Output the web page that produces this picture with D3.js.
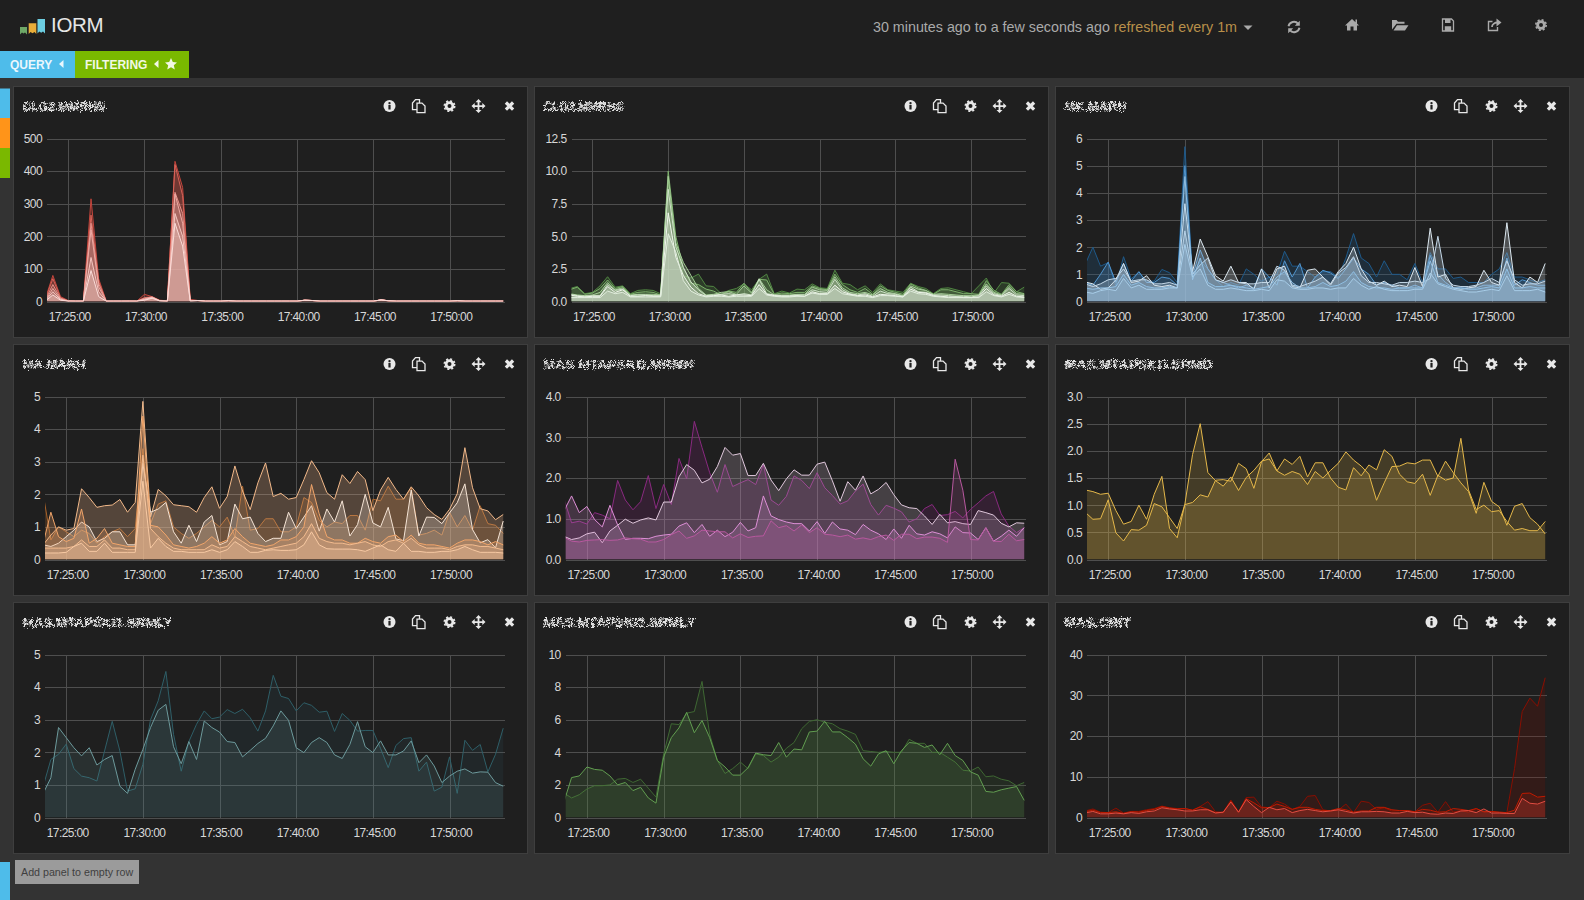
<!DOCTYPE html>
<html>
<head>
<meta charset="utf-8">
<title>IORM</title>
<script src="https://cdnjs.cloudflare.com/ajax/libs/d3/7.8.5/d3.min.js"></script>
<style>
    body { margin: 0; background: #333333; overflow: hidden; }
    svg { display: block; font-family: "Liberation Sans", Arial, sans-serif; }
    .axis text { fill: #d8d8d8; font-size: 12px; letter-spacing: -0.6px; }
    .axis line { stroke: #4e4e4e; shape-rendering: crispEdges; }
    .axis .domain { display: none; }
</style>
</head>
<body>
<svg id="svg" width="1584" height="900"></svg>
<script>
// values, one point every 30 seconds from 17:23:30 to 17:53:30
const xTickLabels = ["17:25:00", "17:30:00", "17:35:00", "17:40:00", "17:45:00", "17:50:00"];
const panelTitles = ["CI.G2.MMRHS", "CLG2.MMRHS", "MK.MARH", "MA.MARH", "MAS.MTAPSKD.MRMH", "MAS.MTAPSKD.SRMD", "MAS.MTAPSKI1.SRMLY", "MAS.MTAPSKI2.SRMLY", "MAS.CRIT"];

// panel 1
const redTail = [3,1,1,1,2,1,1,1,1,1,1,1,1,1,4,3,1,1,1,1,1,1,1,1,5,2,1,1,1,1,1,1,1,1,2,1,1,1,1,1,1];
const redA = [8,80,15,3,1,2,315,70,1,1,1,2,1,22,15,4,2,430,350,6, ...redTail];
const redB = [6,70,12,2,1,1,265,62,1,1,1,1,1,12,14,3,1,420,325,4, ...redTail];
const redC = [5,52,10,2,1,1,240,55,1,1,1,1,1,10,14,3,1,335,270,3, ...redTail];
const redD = [3,40,8,1,1,1,220,45,1,1,1,1,1,8,13,2,1,330,240,2, ...redTail];
const redE = [2,30,6,1,1,1,135,30,1,1,1,1,1,6,12,2,1,270,200,2, ...redTail];
const redF = [1,20,4,1,1,1,95,15,1,1,1,1,1,4,10,2,1,240,170,1, ...redTail];

// panel 2
const greenA = [1.0,1.15,.6,.7,1.2,1.9,1.1,1.2,.6,.85, .9,.85,.6,9.3,4.5,2.0,1.8,2.1,1.2,1.15, .6,.85,1.0,1.35,.9,1.7,2.1,.6,.8,.65, .95,.9,1.35,1.05,1.0,2.4,1.4,1.3,.9,1.2, .7,1.35,.9,.8,.7,1.4,1.15,1.0,.6,1.0, 1.05,.9,.75,.6,1.2,1.8,.65,1.45,1.4,.75,1.1];
const greenB = [.9,1.1,.55,.65,1.0,1.65,1.0,1.15,.55,.7, .75,.7,.5,10,5.0,2.6,1.4,1.3,.95,.8, .5,.8,.7,1.4,.7,1.7,1.65,.55,.65,.6, .7,.7,1.2,1.0,.9,2.1,1.3,.9,.7,1.0, .55,1.2,.85,.7,.55,1.35,1.05,.85,.55,.9, .9,.75,.6,.6,.55,1.6,.85,.55,1.3,.75,.6];
const greenC = [.6,.5,.45,.5,.7,1.45,.9,1.05,.5,.55, .55,.55,.5,9.6,4.5,3.0,2.0,1.0,.5,.55, .7,.75,.55,1.2,.65,1.75,.9,.5,.5,.5, .55,.55,1.1,.9,.85,1.9,1.05,.7,.6,.7, .5,1.0,.7,.6,.45,1.2,.95,.85,.55,.6, .55,.5,.45,.45,.5,1.35,.7,.5,1.15,.6,.55];
const greenD = [.55,.45,.4,.45,.45,1.3,.85,.95,.45,.5, .5,.45,.45,8.6,4.2,2.6,1.5,.9,.45,.5, .55,.6,.5,.6,.5,1.7,.6,.5,.45,.45, .5,.5,.9,.75,.7,1.7,.9,.6,.5,.6, .4,.8,.6,.55,.4,1.1,.75,.7,.5,.5, .45,.4,.4,.35,.45,1.2,.6,.45,1.0,.5,.45];
const greenE = [.5,.4,.35,.4,.4,1.15,.7,.9,.4,.4, .45,.4,.4,6.8,3.4,2.0,1.1,.6,.4,.45, .5,.4,.5,.5,.45,1.3,.55,.45,.4,.4, .45,.4,.75,.6,.6,1.25,.75,.55,.45,.5, .35,.55,.5,.45,.35,.95,.7,.65,.45,.4, .35,.35,.3,.3,.35,1.0,.5,.4,.7,.4,.35];
const greenF = [.3,.3,.3,.3,.3,.8,.6,.7,.35,.35, .35,.35,.35,5.2,3.8,1.6,.8,.5,.35,.4, .4,.35,.4,.4,.4,1.0,.5,.4,.35,.35, .4,.4,.65,.55,.55,1.0,.6,.5,.4,.4, .3,.45,.45,.4,.35,.8,.6,.55,.4,.35, .3,.3,.3,.3,.3,.75,.45,.35,.55,.35,.3];

// panel 3
const blueA = [1.37,2.0,1.3,1.43,.57,1.65,.84,1.08,.75,.75,1.18,1.06,.7,5.7,.9,1.5,1.2,.8,.55,.7,.6,1.2,1.0,.75,.9,1.0,1.85,1.3,1.3,1.1,.9,1.1,1.1,.9,1.6,2.5,1.6,1.4,.9,1.5,1.0,1.0,.8,1.4,.7,1.8,1.2,1.2,.85,.9,.7,.7,.7,1.0,1.2,1.8,.9,.9,.8,.7,.8];
const blueB = [.7,.6,1.0,1.45,.7,1.4,.75,1.1,.7,.7,.9,.85,.6,5.0,.95,1.9,1.2,.8,.7,.6,.5,.6,.5,1.2,.9,.6,1.5,.9,1.4,.5,.9,1.15,1.05,.85,1.2,1.6,1.2,1.0,.6,.7,.6,.5,.5,.6,.5,1.7,1.0,.7,.5,.5,.5,.5,.6,.6,.6,1.6,.6,.8,.7,.6,.6];
const blueC = [.72,.65,.45,.5,.8,1.4,.7,.75,.95,.6,.55,.6,.5,3.6,1.1,2.3,1.65,.95,.75,1.3,.7,.7,.45,1.2,.5,1.2,1.3,.55,.5,1.15,1.2,.9,.65,1.1,1.4,2.0,1.2,.75,.6,.75,.55,.6,.55,1.25,.55,2.7,.9,1.0,.5,.45,.5,.55,1.15,.7,.6,2.9,.7,.5,.9,.7,1.4];
const blueD = [.65,.55,.65,.8,.85,1.2,.75,.8,.8,.65,.65,.7,.6,2.6,1.0,1.35,1.6,.8,.7,.8,.7,.65,.65,.7,.7,1.3,1.15,.6,.55,.65,.75,.9,.6,1.05,1.25,1.65,.95,.7,.7,.65,.6,.7,.7,.75,.7,.85,2.4,.85,.6,.55,.55,.6,.7,.85,.7,1.5,.8,.6,.65,.65,.75];
const blueE = [.5,.45,.5,.5,.55,1.0,.6,.7,.55,.5,.5,.55,.5,4.6,.8,1.6,.7,.55,.55,.6,.55,.5,.45,.5,.55,.9,1.1,.7,.5,.5,.55,.7,.55,.6,.75,1.1,.7,.55,.5,.5,.45,.5,.5,.5,.5,1.5,.7,.6,.5,.5,.45,.45,.5,.55,.5,1.2,.5,.5,.55,.5,.5];
const blueF = [.35,.3,.4,.45,.4,.85,.5,.6,.45,.45,.45,.5,.5,2.1,.9,1.2,.6,.45,.45,.5,.45,.4,.4,.45,.4,.8,.75,.5,.45,.45,.5,.5,.45,.5,.5,.85,.6,.45,.55,.45,.4,.4,.4,.45,.45,1.05,.65,.55,.45,.4,.35,.35,.4,.45,.4,.95,.4,.4,.4,.45,.35];

// panel 4
const orangeTop = [.45,.75,1.0,.9,.95,2.17,1.9,1.6,1.65,1.67,1.84,1.45,1.75,4.85,1.3,2.15,1.95,1.68,1.65,1.62,1.45,1.9,2.23,1.57,1.93,2.87,2.1,1.53,2.35,2.96,1.93,2.03,1.85,1.9,2.45,3.03,2.66,2.05,1.85,2.6,2.33,2.7,2.45,1.5,2.13,2.52,2.15,1.85,2.23,1.95,1.59,1.38,1.23,1.54,2.02,3.43,2.2,1.56,1.49,1.22,1.38];
const orangeDark = [2.0,.6,1.0,.85,.7,.9,.8,.5,.7,.85,.95,.7,.95,3.4,1.1,1.7,1.8,1.0,.8,.65,.8,1.0,1.2,1.0,1.3,.7,2.25,.9,.95,1.25,1.25,.85,.85,1.0,1.9,1.75,1.2,1.0,1.15,1.1,1.35,1.35,.9,1.85,1.8,2.25,1.85,1.85,2.2,.75,.8,.9,.75,1.45,1.0,1.35,.9,1.65,1.1,1.05,.8];
const orangeWhite = [.45,.4,.5,.7,.9,1.15,1.0,.55,.65,.85,.85,.45,.45,2.95,1.45,1.55,1.75,.85,.5,1.05,.55,1.15,1.35,.45,.55,1.7,1.25,1.3,.8,.55,.65,.65,1.45,.95,1.3,1.65,.87,1.55,1.15,1.8,.72,1.07,2.0,1.12,1.0,1.6,.63,.58,2.13,.72,1.3,1.29,1.1,1.43,1.74,2.32,.92,.51,.61,.36,1.18];
const orangeMid = [.5,1.45,.7,.55,.65,1.55,.5,.65,.95,.5,.45,.4,.4,4.4,1.05,1.0,.75,.45,.4,.35,.4,.5,.7,.5,.6,.95,.7,.5,.45,.4,.45,.6,.6,.7,1.0,2.3,1.4,.7,.6,.6,.5,.5,.65,.55,.5,.7,.75,.55,.75,.5,.45,.45,.4,.35,.5,.6,.6,.55,.45,.55,.45];
const orangeLow = [.35,.35,.35,.35,.4,.6,.4,.4,.6,.35,.35,.3,.3,3.2,.95,.7,.5,.35,.3,.3,.3,.3,.45,.35,.4,.7,.55,.4,.35,.3,.35,.4,.45,.5,.7,1.1,.65,.55,.5,.5,.45,.5,.55,.45,.4,.55,.6,.5,.65,.45,.35,.35,.35,.3,.4,.45,.45,.4,.4,.35,.3];
const orangeBase = [.2,.2,.2,.22,.4,.5,.25,.25,.5,.22,.22,.22,.22,2.4,.35,.65,.4,.25,.25,.22,.22,.22,.3,.22,.3,.55,.4,.22,.22,.28,.3,.28,.28,.3,.45,.85,.45,.33,.32,.32,.32,.3,.25,.35,.45,.3,.25,.5,.25,.25,.22,.22,.25,.25,.3,.4,.3,.22,.22,.22,.2];

// panel 5
const purpleDark = [1.5,.9,.94,.87,1.15,1.09,1.0,1.94,1.46,1.22,1.42,2.06,1.25,1.84,1.35,2.48,1.98,3.39,2.75,2.13,1.65,2.33,1.79,1.88,1.96,1.84,2.33,1.46,1.33,1.55,2.05,1.94,1.74,2.13,1.76,1.57,1.36,1.44,1.68,1.85,1.35,1.09,1.33,1.26,1.17,.92,1.0,1.25,1.35,1.08,1.1,1.18,1.02,1.23,1.39,1.56,1.67,1.12,.82,.66,.78];
const purpleLight = [.57,.49,.53,.63,.67,.41,.7,.84,.99,.89,.97,1.02,.97,1.41,1.41,2.03,2.33,2.19,1.88,1.97,2.28,2.75,2.56,2.6,2.06,2.06,2.36,1.95,1.69,1.98,2.2,2.07,2.07,2.34,2.39,1.93,1.43,1.91,1.7,2.05,1.61,1.72,1.89,1.59,1.34,1.27,1.25,1.07,.86,1.11,.9,.93,.88,.86,1.2,1.15,1.09,.89,.8,.9,.89];
const purpleMid = [1.19,1.56,1.15,1.3,.98,.8,1.33,.85,.49,.52,.52,.51,.57,.6,.62,.82,.9,.66,.86,.57,.72,.56,.67,.91,.7,.78,1.56,1.07,.98,.92,.88,.88,.7,.93,.64,.92,.75,.72,.61,.86,.72,.63,.49,.75,.52,.84,.63,.6,.68,.63,.53,.8,.66,.65,.49,.78,.45,.57,.72,.57,.78];
const purpleLow = [.55,.45,.43,.47,.48,.49,.47,.48,.53,.51,.5,.43,.43,.49,.61,.7,.52,.58,.72,.7,.68,.68,.53,.63,.54,.57,.58,.95,.78,.83,.7,.85,.66,.78,.62,.6,.56,.6,.5,.53,.49,.56,.6,.47,.62,.62,.51,.55,.55,.52,.42,2.46,1.7,.49,.48,.78,.45,.44,.62,.46,.49];

// panel 6
const amberA = [1.28,1.25,1.2,1.22,.9,.65,.7,1.0,.74,1.2,1.53,.57,.4,1.02,1.93,2.5,1.6,1.45,1.35,1.52,1.27,1.51,1.64,1.81,1.85,1.63,1.55,1.62,1.57,1.38,1.62,1.5,1.64,1.77,1.98,1.83,1.72,1.57,1.09,1.41,1.71,1.72,1.78,1.76,1.83,1.83,1.53,1.81,1.6,1.41,1.25,.85,1.42,1.07,.97,.63,.98,1.03,.77,.65,.47];
const amberB = [.87,.74,.75,1.1,.49,.34,.55,.54,.63,1.03,.97,.77,.57,1.01,1.05,1.19,1.15,1.46,1.47,1.44,1.77,1.67,1.31,1.8,1.96,1.63,1.85,1.75,1.9,1.52,1.78,1.78,1.5,1.33,1.28,1.69,1.54,1.74,1.65,2.02,1.9,1.57,1.43,1.4,1.57,1.18,1.55,1.46,1.5,2.23,1.28,.92,1.0,.88,.9,.7,.54,.57,.53,.53,.7];

// panel 7
const tealDark = [.96,1.78,1.94,2.25,1.5,1.27,1.22,1.12,2.04,2.95,2.04,.81,.88,1.63,3.0,3.58,4.48,2.55,1.42,2.33,2.86,3.27,3.03,3.08,3.31,3.19,3.32,3.06,2.65,3.27,4.36,3.72,3.65,3.27,3.52,3.44,3.23,3.26,2.64,3.19,2.98,2.65,2.67,2.67,2.12,1.53,2.21,2.42,2.45,1.42,1.7,.81,.93,1.86,.74,2.37,2.06,2.24,1.4,1.94,2.74];
const tealLight = [.74,1.22,2.76,2.45,2.14,1.89,2.14,1.61,1.78,1.9,.96,.74,1.48,2.09,2.76,3.29,3.47,2.17,1.65,2.33,1.78,2.96,2.76,2.62,2.33,2.3,1.86,2.06,2.27,2.43,2.81,3.27,2.98,2.14,1.99,2.3,2.45,2.3,1.92,1.81,2.24,2.94,2.17,1.99,2.35,1.92,1.92,2.04,2.35,1.68,1.92,1.58,1.07,1.27,1.42,1.49,1.36,1.4,1.39,1.07,.96];

// panel 8
const oliveLight = [.95,2.45,2.55,3.1,2.95,2.9,2.55,2.0,2.15,1.65,1.85,1.2,.88,3.7,4.9,5.5,6.45,5.2,5.95,4.9,3.5,3.1,2.6,2.6,3.05,3.95,3.85,3.8,4.6,3.7,4.2,4.15,5.25,5.3,5.9,5.25,5.25,4.9,4.5,3.6,3.15,3.9,4.1,3.3,4.1,4.6,4.55,4.3,4.45,3.85,4.55,3.8,3.5,2.8,2.6,1.6,1.55,1.7,1.8,1.9,1.05];
const oliveDark = [1.5,1.2,1.4,1.75,1.95,1.95,2.0,2.35,2.4,2.15,2.35,1.8,1.25,3.9,5.75,5.7,6.4,6.5,8.35,5.1,3.5,2.7,3.0,3.4,3.0,3.9,3.8,3.4,3.7,4.25,4.6,5.45,5.9,6.0,5.85,5.75,5.45,5.3,5.1,4.1,4.05,4.0,4.05,4.0,4.0,4.8,4.55,4.55,4.0,4.0,3.7,3.4,2.9,2.85,3.1,2.5,2.55,2.35,2.25,1.95,2.15];

// panel 9
const crimsonA = [1.6,2.1,1.3,1.2,2.3,1.1,1.5,1.5,1.9,2.2,2.8,2.4,2.2,2.2,1.8,2.7,3.9,1.4,1.3,4.3,1.4,4.9,5.0,2.6,2.4,4.0,3.3,2.0,2.7,5.2,5.4,1.9,1.6,1.8,3.3,1.2,4.0,3.7,2.0,2.4,1.6,1.7,1.7,1.4,3.0,3.5,1.3,3.9,1.3,1.7,1.3,2.2,1.4,1.4,1.3,1.2,12,26,29.3,27.3,34.3];
const crimsonB = [1.4,1.8,1.2,1.2,1.4,1.0,1.4,1.3,1.7,2.0,2.7,2.3,2.1,2.2,1.8,2.6,2.0,1.2,1.2,4.0,1.3,4.6,3.6,2.4,2.4,3.3,2.7,2.0,2.5,2.5,2.0,1.7,1.7,2.2,1.9,1.3,1.6,1.6,2.5,2.5,1.9,1.7,1.7,1.4,2.0,1.8,1.3,1.4,2.2,2.0,1.7,2.2,1.4,1.5,1.3,1.2,1.8,5.9,6.0,5.0,5.2];
const crimsonC = [1.1,1.5,.9,.9,1.1,.9,1.2,1.0,1.4,1.6,2.4,2.1,1.9,1.6,1.6,1.9,1.9,1.1,1.3,3.8,1.3,4.4,2.7,1.2,2.5,1.9,2.2,1.2,1.7,2.0,1.7,1.4,1.6,1.9,1.5,1.1,1.4,1.4,1.5,1.4,1.1,1.1,1.5,1.2,1.3,.9,.8,1.1,1.0,1.6,1.7,1.2,2.1,1.1,1.1,1.0,1.0,4.7,3.5,3.3,4.0];

// y ticks of each panel
const yTicksRed = [0, 100, 200, 300, 400, 500];
const yTicksGreen = [0, 2.5, 5, 7.5, 10, 12.5];
const yTicksBlue = [0, 1, 2, 3, 4, 5, 6];
const yTicksOrange = [0, 1, 2, 3, 4, 5];
const yTicksPurple = [0, 1, 2, 3, 4];
const yTicksAmber = [0, .5, 1, 1.5, 2, 2.5, 3];
const yTicksTeal = [0, 1, 2, 3, 4, 5];
const yTicksOlive = [0, 2, 4, 6, 8, 10];
const yTicksCrimson = [0, 10, 20, 30, 40];

const panels = [
    { series: [redA, redB, redC, redD, redE, redF], colors: ["#c4453c", "#d8645a", "#e8928a", "#eeaaa3", "#f5c6c0", "#fbdcd8"], ticks: yTicksRed, format: d3.format("d"), alpha: .27, left: 47, titleWidth: 83 },
    { series: [greenA, greenB, greenC, greenD, greenE, greenF], colors: ["#508642", "#7eb26d", "#a5cc98", "#cfe3c8", "#f0f6ec", "#e2eede"], ticks: yTicksGreen, format: d3.format(".1f"), alpha: .28, left: 571.5, titleWidth: 80 },
    { series: [blueA, blueB, blueC, blueD, blueE, blueF], colors: ["#1f5a8a", "#5195ce", "#dce8f0", "#c4d8e8", "#90bfe3", "#a8cde8"], ticks: yTicksBlue, format: d3.format("d"), alpha: .25, left: 1087, titleWidth: 62 },
    { series: [orangeDark, orangeTop, orangeWhite, orangeMid, orangeLow, orangeBase], colors: ["#a8632a", "#f2b98a", "#f5e4d5", "#f1a56a", "#f4bc8f", "#f7c9a3"], ticks: yTicksOrange, format: d3.format("d"), alpha: .25, left: 45, titleWidth: 63 },
    { series: [purpleDark, purpleLight, purpleMid, purpleLow], colors: ["#8a2a80", "#e0c8dc", "#dd8fd6", "#b8589f"], ticks: yTicksPurple, format: d3.format(".1f"), alpha: .2, left: 565.7, titleWidth: 150 },
    { series: [amberA, amberB], colors: ["#e5b84a", "#e5b84a"], ticks: yTicksAmber, format: d3.format(".1f"), alpha: .19, left: 1087, titleWidth: 148 },
    { series: [tealDark, tealLight], colors: ["#2f5f68", "#6d9a9c"], ticks: yTicksTeal, format: d3.format("d"), alpha: .14, left: 45, titleWidth: 150 },
    { series: [oliveDark, oliveLight], colors: ["#3f6833", "#629e51"], ticks: yTicksOlive, format: d3.format("d"), alpha: .17, left: 565.7, titleWidth: 152 },
    { series: [crimsonA, crimsonB, crimsonC], colors: ["#890f02", "#bf1b00", "#e24d42"], ticks: yTicksCrimson, format: d3.format("d"), alpha: .2, left: 1087, titleWidth: 66 }
];

// layout of the grafana grid
const panelLefts = [13.5, 534.5, 1055.5];
const plotRights = [505, 1026, 1547];
const panelTops = [86.5, 344.5, 602.5];
const panelWidth = 514;
const panelHeight = 251;
const plotTop = 52;
const plotHeight = 163;
const iconOffsets = [376, 405, 436, 465, 496];

const parseClock = d3.timeParse("%Y-%m-%d %H:%M:%S");
const firstPoint = parseClock("2015-03-10 17:23:30");
const xDomain = [parseClock("2015-03-10 17:23:37"), parseClock("2015-03-10 17:53:37")];
const xTicks = xTickLabels.map(d => parseClock("2015-03-10 " + d));

let svg = d3.select("#svg");
let defs = svg.append("defs");

// scrambled panel titles
let noise = defs.append("filter").attr("id", "scramble")
    .attr("x", "-5%").attr("y", "-40%").attr("width", "110%").attr("height", "180%");
noise.append("feTurbulence").attr("type", "fractalNoise").attr("baseFrequency", 1.3).attr("numOctaves", 2).attr("seed", 4).attr("result", "n");
noise.append("feDisplacementMap").attr("in", "SourceGraphic").attr("in2", "n").attr("scale", 7).attr("xChannelSelector", "R").attr("yChannelSelector", "G").attr("result", "d");
noise.append("feGaussianBlur").attr("in", "d").attr("stdDeviation", .3);

function drawIcon(g, name, x, y, color, bg) {
    let icon = g.append("g").attr("transform", `translate(${x},${y})`);
    let stroke = (d, w) => icon.append("path").attr("d", d).attr("fill", "none").attr("stroke", color).attr("stroke-width", w);
    let solid = d => icon.append("path").attr("d", d).attr("fill", color);
    if (name == "info") {
        icon.append("circle").attr("r", 6).attr("fill", color);
        icon.append("rect").attr("x", -1.1).attr("y", -1.2).attr("width", 2.2).attr("height", 4.6).attr("fill", bg);
        icon.append("circle").attr("cy", -3).attr("r", 1.2).attr("fill", bg);
    } else if (name == "copy") {
        stroke("M-1.5 3.5H-6V-3L-3 -6.5H1V-3", 1.3);
        icon.append("path").attr("d", "M-1.5 -3H3.5L6.5 0V6.5H-1.5Z").attr("fill", bg).attr("stroke", color).attr("stroke-width", 1.3);
    } else if (name == "gear") {
        icon.append("circle").attr("r", 3.4).attr("fill", "none").attr("stroke", color).attr("stroke-width", 2.8);
        icon.append("circle").attr("r", 5.2).attr("fill", "none").attr("stroke", color).attr("stroke-width", 1.6).attr("stroke-dasharray", "2.05 2.03");
    } else if (name == "move") {
        stroke("M-5 0H5M0 -5V5", 1.8);
        solid("M0 -7L3 -3.8H-3ZM0 7L3 3.8H-3ZM-7 0L-3.8 -3V3ZM7 0L3.8 -3V3Z");
    } else if (name == "close") {
        stroke("M-3.6 -3.6L3.6 3.6M3.6 -3.6L-3.6 3.6", 3.2);
    } else if (name == "home") {
        solid("M0 -6L3.5 -2.8V-5.5H5V-1.4L7 .5H5V5.5H1.5V1.5H-1.5V5.5H-5V.5H-7Z");
    } else if (name == "folder") {
        solid("M-8 4.5V-5H-3.5L-2 -3.2H4.5V-1.2H-3.5ZM-6.5 5.5L-3 .2H8.5L5 5.5Z");
    } else if (name == "save") {
        stroke("M-5.5 -6H3.5L5.5 -4V6H-5.5Z", 1.3);
        solid("M-3 -6H2.5V-2H-3ZM-3.2 1.2H3.2V6H-3.2Z");
    } else if (name == "share") {
        stroke("M3.5 2V5.5H-5.5V-3.5H-1.5", 1.4);
        stroke("M-2 2C-2 -1 1 -2.5 3.5 -2.5", 1.8);
        solid("M2.5 -6.5L7.5 -2.5L2.5 1.5Z");
    } else if (name == "refresh") {
        stroke("M-5.5 -.8A5.6 5.6 0 0 1 4.2 -3.2", 1.9);
        stroke("M5.5 .8A5.6 5.6 0 0 1 -4.2 3.2", 1.9);
        solid("M5.8 -6.2V-1.2H.8ZM-5.8 6.2V1.2H-.8Z");
    }
}

function drawNav() {
    svg.append("rect").attr("width", 1584).attr("height", 78).attr("fill", "#1f1f1f");

    // logo
    let logo = svg.append("g");
    logo.append("path").attr("d", "M20 27H27V34.5L25 32.5L23.5 33.5L22 32.5L20 34.5Z").attr("fill", "#6ea867");
    logo.append("path").attr("d", "M28.7 23.3H36.3V34L34.5 32L32.5 33.2L30.5 32L28.7 34Z").attr("fill", "#e8ad3a");
    logo.append("path").attr("d", "M37.5 19H45V33.5L43 31.5L41.2 32.8L39.3 31.5L37.5 33.5Z").attr("fill", "#6ccde0");
    svg.append("text").attr("x", 51).attr("y", 32).attr("fill", "#e6e6e6").style("font-size", "20.5px").style("letter-spacing", "-0.3px").text("IORM");

    // time picker
    let time = svg.append("text").attr("x", 873).attr("y", 32).style("font-size", "14.3px");
    time.append("tspan").attr("fill", "#aaaaaa").text("30 minutes ago to a few seconds ago ");
    time.append("tspan").attr("fill", "#b8904a").text("refreshed every 1m");
    svg.append("path").attr("d", "M1243.5 25.5H1252.5L1248 30Z").attr("fill", "#aaaaaa");

    drawIcon(svg, "refresh", 1294, 27, "#aaaaaa");
    drawIcon(svg, "home", 1352, 25, "#aaaaaa");
    drawIcon(svg, "folder", 1400, 25, "#aaaaaa");
    drawIcon(svg, "save", 1448, 25, "#aaaaaa");
    drawIcon(svg, "share", 1494, 25, "#aaaaaa");
    drawIcon(svg, "gear", 1541, 25, "#aaaaaa", "#1f1f1f");

    // query and filtering tabs
    svg.append("rect").attr("y", 51).attr("width", 75).attr("height", 27).attr("fill", "#4ebcea");
    svg.append("rect").attr("x", 75).attr("y", 51).attr("width", 114).attr("height", 27).attr("fill", "#7ab800");
    svg.append("text").attr("x", 10).attr("y", 68.5).attr("fill", "#eaf7fd").style("font-size", "12px").style("font-weight", "bold").text("QUERY");
    svg.append("text").attr("x", 85).attr("y", 68.5).attr("fill", "#f2f8e4").style("font-size", "12px").style("font-weight", "bold").text("FILTERING");
    svg.append("path").attr("d", "M63.5 60V68L59 64Z").attr("fill", "#eaf7fd");
    svg.append("path").attr("d", "M158.5 60V68L154 64Z").attr("fill", "#f2f8e4");
    svg.append("path").attr("d", "M171 58L172.8 62L177 62.4L173.8 65.2L174.8 69.5L171 67.2L167.2 69.5L168.2 65.2L165 62.4L169.2 62Z").attr("fill", "#f2f8e4");

    // row handles
    svg.append("rect").attr("y", 88.5).attr("width", 10).attr("height", 29.5).attr("fill", "#4ebcea");
    svg.append("rect").attr("y", 118).attr("width", 10).attr("height", 30).attr("fill", "#ff9419");
    svg.append("rect").attr("y", 148).attr("width", 10).attr("height", 30).attr("fill", "#7ab800");
    svg.append("rect").attr("y", 862).attr("width", 10).attr("height", 38).attr("fill", "#4ebcea");

    svg.append("rect").attr("x", 15).attr("y", 860).attr("width", 124).attr("height", 24).attr("fill", "#9b9b9b");
    svg.append("text").attr("x", 21).attr("y", 876).attr("fill", "#3f3f3f").style("font-size", "10.7px").text("Add panel to empty row");
}

function drawPanel(panel, i) {
    let col = i % 3;
    let row = Math.floor(i / 3);
    let px = panelLefts[col];
    let py = panelTops[row];
    let top = py + plotTop;
    let bottom = top + plotHeight;
    let g = svg.append("g");

    g.append("rect").attr("x", px).attr("y", py).attr("width", panelWidth).attr("height", panelHeight)
        .attr("fill", "#1f1f1f").attr("stroke", "#3e3e3e").attr("shape-rendering", "crispEdges");

    g.append("text").attr("x", px + 9).attr("y", py + 24.5)
        .attr("fill", "#e2e2e2").attr("textLength", panel.titleWidth).attr("lengthAdjust", "spacingAndGlyphs")
        .attr("filter", "url(#scramble)").style("font-size", "13px").style("font-weight", "bold")
        .text(panelTitles[i]);

    ["info", "copy", "gear", "move", "close"].forEach((name, k) => {
        drawIcon(g, name, px + iconOffsets[k], py + 19.6, "#e8e8e8", "#1f1f1f");
    });

    let xScale = d3.scaleTime().domain(xDomain).range([panel.left, plotRights[col]]);
    let yScale = d3.scaleLinear().domain([0, d3.max(panel.ticks)]).range([bottom, top]);

    let xAxis = g.append("g").attr("class", "axis").attr("transform", `translate(0,${bottom})`)
        .call(d3.axisBottom(xScale).tickValues(xTicks).tickFormat(d3.timeFormat("%H:%M:%S")).tickSize(-plotHeight).tickPadding(11));
    xAxis.selectAll("text").attr("dx", 1);
    g.append("g").attr("class", "axis").attr("transform", `translate(${panel.left},0)`)
        .call(d3.axisLeft(yScale).tickValues(panel.ticks).tickFormat(panel.format).tickSize(-(plotRights[col] - panel.left)).tickPadding(5));

    let clipId = "plot-clip-" + i;
    defs.append("clipPath").attr("id", clipId).append("rect")
        .attr("x", panel.left).attr("y", top - 2).attr("width", plotRights[col] - panel.left).attr("height", plotHeight + 2);

    let timeOf = (d, k) => d3.timeSecond.offset(firstPoint, 30 * k);
    let area = d3.area().x((d, k) => xScale(timeOf(d, k))).y0(bottom).y1(d => yScale(d));
    let line = d3.line().x((d, k) => xScale(timeOf(d, k))).y(d => yScale(d));

    let plot = g.append("g").attr("clip-path", `url(#${clipId})`);
    panel.series.forEach((values, k) => {
        plot.append("path").attr("d", area(values)).attr("fill", panel.colors[k]).attr("fill-opacity", panel.alpha);
        plot.append("path").attr("d", line(values)).attr("fill", "none").attr("stroke", panel.colors[k]).attr("stroke-width", 1).attr("stroke-linejoin", "round");
    });
}

drawNav();
panels.forEach(drawPanel);
</script>
</body>
</html>
